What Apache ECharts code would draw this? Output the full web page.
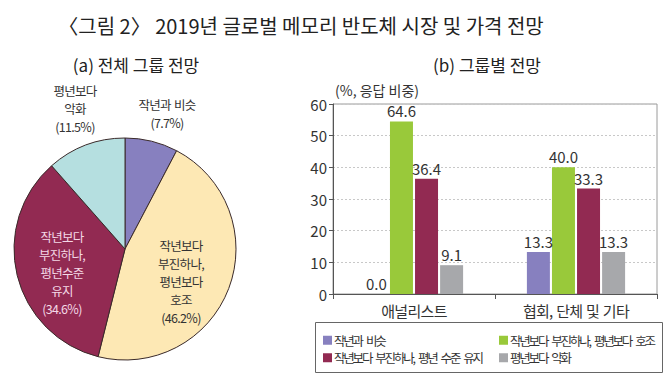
<!DOCTYPE html>
<html><head><meta charset="utf-8">
<script src="https://cdn.jsdelivr.net/npm/echarts@6/dist/echarts.min.js"></script>
<style>
html,body{margin:0;padding:0;background:#fff}#c{width:670px;height:384px}
#c text[style*="xcond"], #c text[font-family*="xcond"]{letter-spacing:-2.2px;word-spacing:3.5px}
#c text[style*="xnarrow"], #c text[font-family*="xnarrow"]{letter-spacing:-0.7px;word-spacing:1px}
</style>
</head><body><div id="c"></div>
<script>
// ---- data ----
const pieNames = ['작년과 비슷', '작년보다 부진하나, 평년보다 호조', '작년보다 부진하나, 평년수준 유지', '평년보다 악화'];
const pieLabels = ['작년과 비슷\n(7.7%)', '작년보다\n부진하나,\n평년보다\n호조\n(46.2%)', '작년보다\n부진하나,\n평년수준\n유지\n(34.6%)', '평년보다\n악화\n(11.5%)'];
const pieValues = [7.7, 46.2, 34.6, 11.5];

const categories = ['애널리스트', '협회, 단체 및 기타'];
const seriesNames = ['작년과 비슷', '작년보다 부진하나, 평년보다 호조', '작년보다 부진하나, 평년 수준 유지', '평년보다 악화'];
// bar heights as drawn in the picture
const similar = [0, 13.3];
const betterThanAvg = [54.5, 40.0];
const keepAvg = [36.4, 33.3];
const worse = [9.1, 13.3];
// value labels as printed in the picture
const similarText = ['0.0', '13.3'];
const betterText = ['64.6', '40.0'];
const keepText = ['36.4', '33.3'];
const worseText = ['9.1', '13.3'];
const yTicks = [0, 10, 20, 30, 40, 50, 60];

// ---- styles ----
const KR = '"Noto Sans CJK KR", "Noto Sans", sans-serif';
const KRN = 'xnarrow, "Noto Sans CJK KR", "Noto Sans", sans-serif';
const KRC = 'xcond, "Noto Sans CJK KR", "Noto Sans", sans-serif';
const NUM = '"Liberation Sans Narrow", "Noto Sans CJK KR", sans-serif';
const pieColors = ['#8780bf', '#fde8b4', '#922a52', '#b5dfe0'];
const barColors = ['#8780bf', '#99c93a', '#922a52', '#a7a8ab'];
const pieLabelPos = [[167, 113], [181, 281], [62, 272], [75, 108]];
const pieLabelColor = ['#333', '#333', '#f4d8e6', '#333'];

const chart = echarts.init(document.getElementById('c'), null, { renderer: 'svg' });
const barData = [similar, betterThanAvg, keepAvg, worse];
const barText = [similarText, betterText, keepText, worseText];

chart.setOption({
  animation: false,
  textStyle: { fontFamily: KR },
  title: [
    { text: '〈그림 2〉 2019년 글로벌 메모리 반도체 시장 및 가격 전망', left: 296, top: 10, textAlign: 'center',
      textStyle: { fontSize: 20, fontWeight: 'normal', color: '#222', fontFamily: KR } },
    { text: '(a) 전체 그룹 전망', left: 131, top: 51, textAlign: 'center',
      textStyle: { fontSize: 17, fontWeight: 'normal', color: '#222', fontFamily: KR } },
    { text: '(b) 그룹별 전망', left: 482, top: 51, textAlign: 'center',
      textStyle: { fontSize: 17, fontWeight: 'normal', color: '#222', fontFamily: KR } }
  ],
  grid: { left: 333, top: 104, right: 13, bottom: 90, show: true, borderColor: '#9a9a9a', borderWidth: 1 },
  xAxis: {
    type: 'category', data: categories,
    axisLine: { lineStyle: { color: '#555' } },
    axisTick: { show: true, length: 5, inside: false, lineStyle: { color: '#555' } },
    axisLabel: { color: '#333', fontSize: 15, margin: 9, fontFamily: KRN }
  },
  yAxis: {
    type: 'value', min: 0, max: 60, interval: 10,
    name: '(%, 응답 비중)', nameLocation: 'end', nameGap: 7,
    nameTextStyle: { color: '#333', fontSize: 14, align: 'left', padding: [0, 0, 0, 2], fontFamily: KR },
    axisLine: { show: true, lineStyle: { color: '#555' } },
    axisTick: { show: true, length: 4, lineStyle: { color: '#555' } },
    axisLabel: { color: '#333', fontSize: 15, margin: 6, fontFamily: NUM,
      formatter: v => yTicks.includes(v) ? String(v) : '' },
    splitLine: { show: true, lineStyle: { color: '#c8c8c8', type: [2, 2] } }
  },
  legend: [
    { data: [seriesNames[0], seriesNames[2]], orient: 'vertical', left: 318, top: 329, itemWidth: 9, itemHeight: 9,
      itemGap: 5, icon: 'rect', textStyle: { fontSize: 12.5, color: '#333', fontFamily: KRC, padding: [0, 0, 0, -3] } },
    { data: [seriesNames[1], seriesNames[3]], orient: 'vertical', left: 494, top: 329, itemWidth: 9, itemHeight: 9,
      itemGap: 5, icon: 'rect', textStyle: { fontSize: 12.5, color: '#333', fontFamily: KRC, padding: [0, 0, 0, -3] } }
  ],
  graphic: [
    { type: 'rect', shape: { x: 315.5, y: 322.5, width: 347, height: 50 },
      style: { fill: 'none', stroke: '#666', lineWidth: 1 }, silent: true }
  ],
  series: [
    {
      type: 'pie', center: [125, 249], radius: 111, startAngle: 90, clockwise: true,
      data: pieValues.map((v, i) => ({ name: pieNames[i], value: v,
        itemStyle: { color: pieColors[i] },
        label: { color: pieLabelColor[i] } })),
      itemStyle: { borderColor: '#3a2a2a', borderWidth: 1 },
      label: { show: true, position: 'inside', fontSize: 12.5, lineHeight: 18, fontFamily: KRN,
        formatter: p => pieLabels[p.dataIndex] },
      labelLine: { show: false },
      labelLayout: p => ({ x: pieLabelPos[p.dataIndex][0], y: pieLabelPos[p.dataIndex][1], align: 'center', verticalAlign: 'middle' }),
      emphasis: { disabled: true }
    },
    ...barData.map((d, i) => ({
      type: 'bar', name: seriesNames[i], data: d, barWidth: 23, barGap: '9%',
      itemStyle: { color: barColors[i] },
      label: { show: true, position: 'top', distance: 3, color: '#333', fontSize: 15, fontFamily: NUM,
        formatter: p => barText[i][p.dataIndex] },
      emphasis: { disabled: true }
    }))
  ]
});
</script></body></html>
